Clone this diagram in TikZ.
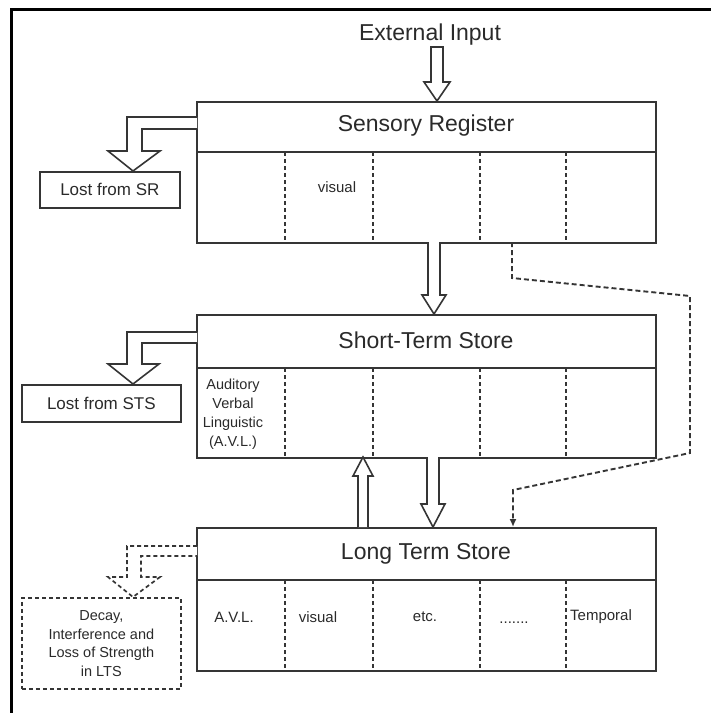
\documentclass[tikz,border=0pt]{standalone}
\usepackage{fontspec}
\setmainfont{Liberation Sans}
\usetikzlibrary{arrows.meta,calc}
\definecolor{ln}{HTML}{353535}
\definecolor{tx}{HTML}{2A2A2A}
\begin{document}
\begin{tikzpicture}[x=1pt,y=-1pt,
  storebox/.style={draw=ln, line width=1.9pt, minimum width=459pt, anchor=north west, inner sep=0pt},
  divider/.style={draw=ln, line width=1.9pt},
  celldash/.style={draw=ln, line width=1.7pt, dash pattern=on 4pt off 3pt},
  hollow/.style={draw=ln, line width=1.6pt, fill=white, line join=miter},
  hollowdash/.style={draw=ln, line width=1.7pt, fill=white, dash pattern=on 4pt off 3pt},
  titletext/.style={text=tx, font=\fontsize{23}{27}\selectfont, inner sep=0pt},
  celltext/.style={text=tx, font=\fontsize{15}{19}\selectfont, inner sep=0pt, align=center},
  losttext/.style={text=tx, font=\fontsize{17}{20}\selectfont, inner sep=0pt},
  lostbox/.style={draw=ln, line width=1.7pt, anchor=north west, inner sep=0pt},
  decaybox/.style={draw=ln, line width=1.7pt, dash pattern=on 4pt off 3pt, anchor=north west, inner sep=0pt},
  dashconn/.style={draw=ln, line width=1.9pt, dash pattern=on 5pt off 3pt, -{Latex[length=8pt,width=7pt]}}
]
\useasboundingbox (0,0) rectangle (711,713);
% frame
\draw[black, line width=3pt] (11,713) -- (11,9) -- (711,9);

% store boxes
\node[storebox, minimum height=141pt] (sr) at (196,101) {};
\node[storebox, minimum height=143pt] (sts) at (196,314) {};
\node[storebox, minimum height=143pt] (lts) at (196,527) {};

\draw[divider] (196,152) -- (655,152);
\draw[divider] (196,368) -- (655,368);
\draw[divider] (196,580) -- (655,580);

\foreach \x in {285,373,480,566} {
  \draw[celldash] (\x,152) -- (\x,242);
  \draw[celldash] (\x,368) -- (\x,457);
  \draw[celldash] (\x,580) -- (\x,670);
}

% titles
\node[titletext] (ext) at (430,35) {External Input};
\node[titletext] (srt) at (426,126) {Sensory Register};
\node[titletext] (stst) at (426,340) {Short-Term Store};
\node[titletext] (ltst) at (426,554) {Long Term Store};

% cell texts
\node[celltext] (srvis) at (337,187) {visual};
\node[celltext, font=\fontsize{14.5}{19}\selectfont] (avl) at (233,414) {Auditory\\Verbal\\Linguistic\\(A.V.L.)};
\node[celltext] (l1) at (234,617) {A.V.L.};
\node[celltext] (l2) at (318,617) {visual};
\node[celltext] (l3) at (425,617) {etc.};
\node[celltext] (l4) at (514,623) {.......};
\node[celltext] (l5) at (601,617) {Temporal};

% lost boxes
\node[lostbox, minimum width=140pt, minimum height=36pt] (lsr) at (39,171) {};
\node[losttext] at (lsr.center) {Lost from SR};
\node[lostbox, minimum width=159pt, minimum height=37pt] (lsts) at (21,384) {};
\node[losttext] at (lsts.center) {Lost from STS};
\node[decaybox, minimum width=159pt, minimum height=91pt] (dec) at (21,597) {};
\node[celltext, font=\fontsize{14.5}{18.5}\selectfont] at (dec.center) {Decay,\\Interference and\\Loss of Strength\\in LTS};

% hollow arrows
\draw[hollow] (431,47) -- (431,82) -- (424,82) -- (437,101) -- (450,82) -- (443,82) -- (443,47) -- cycle;
\draw[hollow] (428,242) -- (428,295) -- (422,295) -- (434,314) -- (446,295) -- (440,295) -- (440,242);
\draw[hollow] (427,457) -- (427,504) -- (421,504) -- (433,527) -- (445,504) -- (439,504) -- (439,457);
\draw[hollow] (358,527) -- (358,476) -- (353,476) -- (363,457) -- (373,476) -- (368,476) -- (368,527);

% lost arrows
\draw[hollow] (197,117) -- (127,117) -- (127,151) -- (108,151) -- (133,171) -- (160,151) -- (142,151) -- (142,129) -- (197,129);
\draw[hollow] (197,332) -- (127,332) -- (127,364) -- (108,364) -- (133,384) -- (159,364) -- (142,364) -- (142,343) -- (197,343);
\draw[hollowdash] (197,546) -- (127,546) -- (127,577) -- (108,577) -- (133,597) -- (160,577) -- (141,577) -- (141,556) -- (197,556);

% dashed connector SR -> LTS
\coordinate (c0) at (512,242);
\coordinate (c5) at (513,527);
\draw[dashconn] (c0) -- (512,278) -- (690,296) -- (690,453) -- (513,490) -- (c5);
\end{tikzpicture}
\end{document}
